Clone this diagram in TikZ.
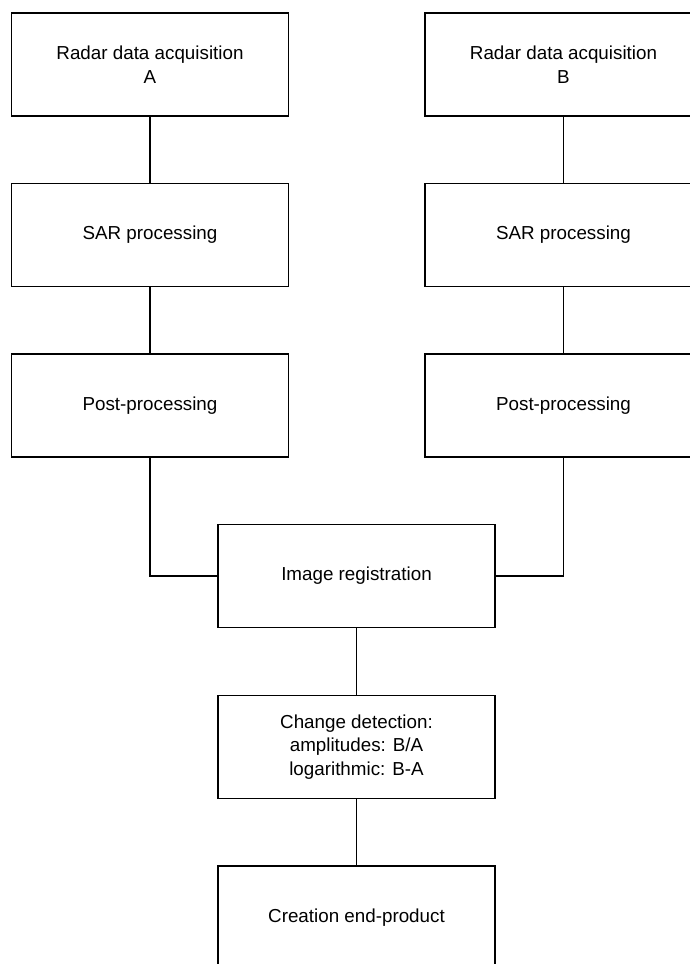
\documentclass[tikz,border=0pt]{standalone}
\usepackage{fontspec}
\setmainfont{Liberation Sans}
\tikzset{stage/.style={draw=black, line width=1.4pt, minimum width=277pt, minimum height=103pt,
    inner sep=0pt, align=center, font=\fontsize{18.8}{23.5}\selectfont},
  link/.style={black, line width=1.4pt}}

\begin{document}
\begin{tikzpicture}[x=1pt, y=-1pt]
            \useasboundingbox (0,0) rectangle (690,964);
            \clip (0,0) rectangle (690,964);
            % left chain
            \node[stage] (acqA) at (150,64.5) {Radar data acquisition\\A};
            \node[stage] (sarA) at (150,235) {SAR processing};
            \node[stage] (postA) at (150,405.5) {Post-processing};
            % right chain
            \node[stage] (acqB) at (563.5,64.5) {Radar data acquisition\\B};
            \node[stage] (sarB) at (563.5,235) {SAR processing};
            \node[stage] (postB) at (563.5,405.5) {Post-processing};
            % common part
            \node[stage] (reg) at (356.5,576) {Image registration};
            \node[stage] (change) at (356.5,747) {Change detection:\\amplitudes: B/A\\logarithmic: B-A};
            \node[stage] (product) at (356.5,917.5) {Creation end-product};
            \draw[link] (acqA) -- (sarA);
            \draw[link] (sarA) -- (postA);
            \draw[link] (acqB) -- (sarB);
            \draw[link] (sarB) -- (postB);
            \draw[link] (postA.south) |- (reg.west);
            \draw[link] (postB.south) |- (reg.east);
            \draw[link] (reg) -- (change);
            \draw[link] (change) -- (product);
        \end{tikzpicture}
\end{document}
